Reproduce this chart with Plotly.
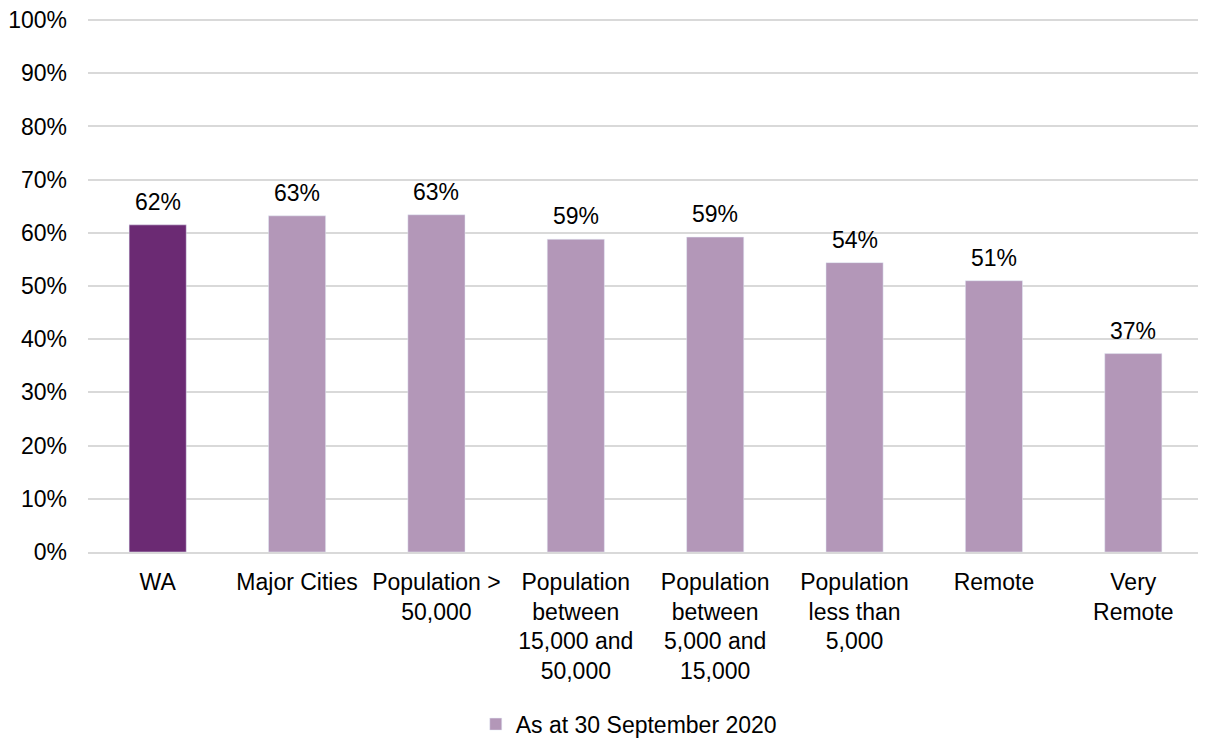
import plotly.graph_objects as go

categories = ["WA", "Major Cities", "Population &gt;<br>50,000",
              "Population<br>between<br>15,000 and<br>50,000",
              "Population<br>between<br>5,000 and<br>15,000",
              "Population<br>less than<br>5,000", "Remote", "Very<br>Remote"]
values = [61.5, 63.2, 63.4, 58.8, 59.2, 54.4, 51.0, 37.3]
labels = ["62%", "63%", "63%", "59%", "59%", "54%", "51%", "37%"]
series_name = "As at 30 September 2020"
y_ticks = [0, 10, 20, 30, 40, 50, 60, 70, 80, 90, 100]
y_tick_text = [f"{v}%" for v in y_ticks]

dark = "#6B2A73"
light = "#B397B8"
font = dict(family="Liberation Sans, Arial, sans-serif", size=23, color="#000000")

fig = go.Figure()
fig.add_trace(go.Bar(x=categories[:1], y=values[:1], marker_color=dark,
                     showlegend=False, hoverinfo="skip"))
fig.add_trace(go.Bar(x=categories[1:], y=values[1:], marker_color=light,
                     name=series_name))

for c, v, t in zip(categories, values, labels):
    fig.add_annotation(x=c, y=v, text=t, showarrow=False, yanchor="bottom",
                       yshift=8, font=font)

fig.update_layout(
    width=1198, height=740,
    margin=dict(l=80, r=3, t=11, b=196),
    paper_bgcolor="white", plot_bgcolor="white",
    barmode="overlay", bargap=0.59,
    font=font,
    showlegend=True,
    legend=dict(orientation="h", x=0.485, xanchor="center", y=-0.323, yanchor="middle",
                font=font, itemwidth=30),
    xaxis=dict(categoryorder="array", categoryarray=categories, automargin=False,
               showline=True, linecolor="#D9D9D9", linewidth=2,
               ticks="", tickfont=font, ticklabelstandoff=8),
    yaxis=dict(range=[0, 100.2], tickvals=y_ticks, ticktext=y_tick_text, automargin=False,
               showgrid=True, gridcolor="#D9D9D9", gridwidth=1.5,
               zeroline=False, ticks="", tickfont=font, ticklabelstandoff=20,
               ticklabeloverflow="allow"),
)

fig.write_html("out.html")
